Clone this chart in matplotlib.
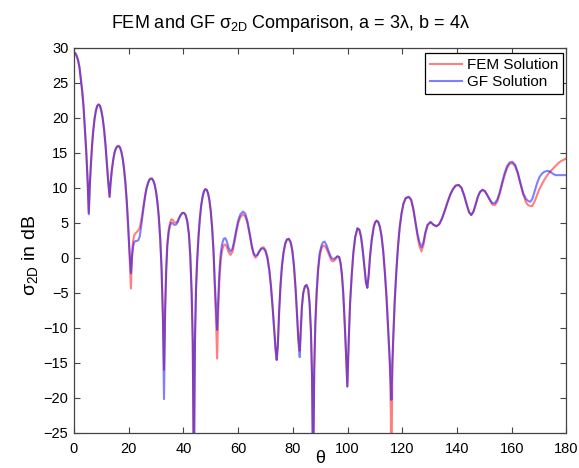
import numpy as np
import matplotlib
matplotlib.use("Agg")
import matplotlib.pyplot as plt

plt.rcParams['font.family'] = ['Liberation Sans', 'DejaVu Sans']
plt.rcParams['mathtext.fontset'] = 'custom'
plt.rcParams['mathtext.rm'] = 'Liberation Sans'
plt.rcParams['mathtext.it'] = 'Liberation Sans:italic'

# scattering angle (deg)
theta = [
    0, 0.5, 1, 1.5, 2, 2.5, 3, 3.5, 4, 4.5, 5, 5.4,
    5.8, 6.2, 6.6, 7.0, 7.5, 8.0, 8.5, 9.0, 9.5, 10.0, 10.5, 11.0, 11.5, 12.0, 12.5, 13.0,
    13.4, 13.8, 14.3, 14.8, 15.3, 15.8, 16.3, 16.8, 17.3, 17.8, 18.3, 18.8, 19.3, 19.8, 20.3, 20.8,
    21.2, 21.6, 22.0, 22.5, 23.0, 23.5, 24.0, 24.5, 25.0, 25.5, 26.0, 26.5, 27.0, 27.5, 28.0, 28.5,
    29.0, 29.5, 30.0, 30.5, 31.0, 31.5, 32.0, 32.5, 32.9,
    33.3, 33.7, 34.1, 34.6, 35.1, 35.6, 36.1, 36.6, 37.2, 37.8, 38.4, 39.0, 39.6, 40.2, 40.8, 41.4,
    42.0, 42.5, 43.0, 43.4, 43.8,
    44.2, 44.6, 45.0, 45.5, 46.0, 46.5, 47.0, 47.5, 48.0, 48.5, 49.0, 49.5, 50.0, 50.5, 51.0, 51.5,
    52.0, 52.3,
    52.7, 53.1, 53.6, 54.1, 54.7, 55.3, 55.9, 56.5, 57.2, 57.9, 58.5, 59.2, 60.0, 60.8, 61.8, 62.6,
    63.4, 64.2, 65.0, 65.7, 66.3,
    67.0, 67.7, 68.5, 69.3, 70.0, 70.7, 71.4, 72.0, 72.6, 73.2, 73.7, 74.1,
    74.5, 75.0, 75.5, 76.0, 76.6, 77.2, 77.8, 78.5, 79.2, 79.8, 80.4, 81.0, 81.5, 82.0, 82.5,
    82.9, 83.3, 83.8, 84.4, 85.0, 85.6, 86.1, 86.6, 87.0, 87.4,
    87.8, 88.2, 88.7, 89.2, 89.8, 90.5, 91.0, 91.6, 92.3, 93.0, 93.7, 94.3, 94.9, 95.6, 96.3, 96.9,
    97.4, 97.9, 98.4, 98.9, 99.4, 99.9,
    100.4, 100.9, 101.5, 102.1, 102.8, 103.6, 104.3, 104.9, 105.5, 106.1, 106.7, 107.2,
    107.7, 108.2, 108.8, 109.5, 110.0, 110.6, 111.2, 111.8, 112.4, 113.0, 113.6, 114.2, 114.8, 115.4,
    115.8, 116.0,
    116.3, 116.7, 117.2, 117.8, 118.4, 119.0, 119.7, 120.4, 121.2, 122.3, 123.2, 124.0, 124.8, 125.5,
    126.2, 127.0,
    127.7, 128.4, 129.2, 130.3, 131.4, 132.5, 133.5, 134.5, 135.5, 136.5, 137.5, 138.5, 139.5, 140.6,
    141.6, 142.6, 143.6, 144.4, 145.2,
    146.0, 146.8, 147.6, 148.4, 149.3, 150.2, 151.1, 152.0, 152.9, 153.8, 154.7, 155.6, 156.5, 157.4,
    158.3, 159.2, 160.2, 161.2, 162.2, 163.2, 164.2, 165.2, 166.0, 166.8,
    167.5, 168.3, 169.2, 170.1, 171.0, 172.0, 173.0, 174.0, 175.0, 176.0, 177.0, 178.0, 179.0, 180.0,
]

fem_db = [
    29.3, 29.2, 28.8, 28.2, 27.2, 25.5, 23.8, 21.5, 18.3, 15.0, 10.8, 6.4,
    10.5, 13.5, 16.0, 18.0, 19.8, 21.0, 21.7, 21.9, 21.7, 21.0, 19.9, 18.3, 16.2, 13.6, 10.9, 8.7,
    10.8, 12.4, 13.9, 15.0, 15.6, 15.9, 15.9, 15.7, 15.1, 14.1, 12.6, 10.6, 7.9, 4.4, 0.4, -4.4,
    0.5, 2.4, 3.2, 3.5, 3.7, 3.9, 4.3, 5.2, 6.4, 7.7, 8.9, 9.9, 10.6, 11.1, 11.3, 11.3,
    11.0, 10.4, 9.4, 7.9, 5.8, 2.8, -1.5, -8.0, -16.0,
    -7.0, -1.5, 2.0, 4.0, 5.0, 5.5, 5.4, 5.1, 5.0, 5.2, 5.7, 6.1, 6.4, 6.4, 6.1, 5.2,
    3.4, 0.3, -5.0, -12.0, -32.0,
    -12.0, -4.5, -0.5, 3.0, 5.6, 7.5, 8.7, 9.5, 9.8, 9.7, 9.2, 8.2, 6.6, 4.2, 0.8, -4.5,
    -10.0, -14.4,
    -8.0, -3.5, -0.5, 1.0, 1.8, 1.9, 1.5, 0.8, 0.4, 0.8, 1.9, 3.4, 4.9, 5.8, 6.2, 5.9,
    4.9, 3.3, 1.5, 0.4, 0.0,
    0.3, 0.9, 1.4, 1.5, 1.1, 0.1, -1.7, -4.0, -7.0, -10.5, -13.2, -14.6,
    -12.5, -7.5, -3.8, -1.2, 0.8, 2.0, 2.6, 2.7, 2.2, 1.0, -1.2, -4.5, -8.0, -11.5, -13.3,
    -10.0, -7.0, -5.0, -4.1, -3.9, -4.5, -6.5, -10.5, -17.0, -32.0,
    -16.0, -9.5, -5.0, -2.0, 0.2, 1.4, 1.7, 1.7, 1.3, 0.6, -0.1, -0.5, -0.5, -0.2, 0.2, 0.1,
    -0.7, -2.3, -5.0, -9.0, -13.5, -18.4,
    -12.0, -6.5, -2.5, 0.7, 3.0, 4.2, 4.0, 3.0, 1.2, -1.2, -3.5, -4.3,
    -2.5, 0.2, 2.5, 4.3, 5.0, 5.3, 5.1, 4.4, 3.1, 1.0, -2.0, -5.5, -10.0, -15.0,
    -22.0, -32.0,
    -18.0, -11.5, -6.5, -2.0, 1.5, 4.2, 6.3, 7.7, 8.5, 8.7, 8.3, 7.0, 5.0, 3.2,
    1.7, 0.9,
    1.8, 3.4, 4.6, 5.1, 4.7, 4.5, 4.8, 5.6, 6.7, 7.9, 9.0, 9.8, 10.3, 10.4,
    10.0, 8.9, 7.5, 6.5, 6.1,
    6.6, 7.6, 8.7, 9.4, 9.7, 9.5, 8.9, 8.2, 7.6, 7.5, 8.0, 9.1, 10.5, 11.8,
    12.8, 13.4, 13.5, 13.1, 12.0, 10.5, 9.0, 7.9, 7.5, 7.4,
    7.4, 8.0, 8.9, 9.8, 10.5, 11.2, 11.8, 12.3, 12.7, 13.1, 13.5, 13.8, 14.0, 14.2,
]

gf_db = [
    29.3, 29.2, 28.8, 28.2, 27.2, 25.5, 23.8, 21.5, 18.3, 15.0, 10.8, 6.2,
    10.5, 13.5, 16.0, 18.0, 19.8, 21.0, 21.7, 21.9, 21.7, 21.0, 19.9, 18.3, 16.2, 13.6, 10.9, 8.7,
    10.8, 12.4, 13.9, 15.0, 15.6, 15.9, 16.0, 15.8, 15.2, 14.2, 12.7, 10.7, 8.0, 4.6, 0.8, -2.2,
    0.0, 1.6, 2.2, 2.4, 2.4, 2.5, 3.0, 4.3, 5.9, 7.4, 8.8, 9.9, 10.6, 11.1, 11.3, 11.3,
    11.0, 10.4, 9.4, 7.9, 5.8, 2.8, -1.5, -9.0, -20.2,
    -8.0, -2.0, 1.6, 3.6, 4.6, 5.0, 4.9, 4.7, 4.7, 5.0, 5.6, 6.1, 6.4, 6.4, 6.1, 5.2,
    3.4, 0.3, -5.0, -12.0, -32.0,
    -12.0, -4.5, -0.5, 3.0, 5.6, 7.5, 8.7, 9.5, 9.8, 9.7, 9.2, 8.2, 6.6, 4.2, 0.9, -3.8,
    -8.0, -10.3,
    -6.0, -2.3, 0.5, 1.9, 2.7, 2.8, 2.3, 1.4, 0.9, 1.3, 2.3, 3.8, 5.3, 6.2, 6.6, 6.3,
    5.2, 3.5, 1.7, 0.6, 0.3,
    0.4, 0.9, 1.3, 1.3, 0.9, -0.1, -1.9, -4.2, -7.2, -10.5, -13.2, -14.6,
    -12.5, -7.5, -3.8, -1.2, 0.8, 2.0, 2.6, 2.7, 2.2, 1.0, -1.2, -4.5, -8.0, -11.8, -14.2,
    -10.3, -7.0, -5.0, -4.1, -3.9, -4.5, -6.5, -10.5, -17.0, -32.0,
    -16.0, -9.5, -4.8, -1.6, 0.7, 1.8, 2.2, 2.3, 1.8, 1.0, 0.3, -0.1, -0.2, 0.0, 0.2, 0.1,
    -0.7, -2.3, -5.0, -9.0, -13.5, -18.4,
    -12.0, -6.5, -2.5, 0.7, 3.0, 4.2, 4.0, 3.0, 1.2, -1.2, -3.5, -4.3,
    -2.5, 0.2, 2.5, 4.3, 5.0, 5.3, 5.1, 4.4, 3.1, 1.0, -2.0, -5.5, -10.0, -14.5,
    -18.0, -20.3,
    -15.0, -11.0, -6.3, -2.0, 1.5, 4.2, 6.3, 7.7, 8.5, 8.7, 8.3, 7.0, 5.1, 3.5,
    2.3, 1.5,
    2.2, 3.6, 4.7, 5.1, 4.7, 4.5, 4.8, 5.6, 6.7, 7.9, 9.0, 9.8, 10.3, 10.4,
    10.0, 8.9, 7.5, 6.5, 6.1,
    6.6, 7.6, 8.7, 9.4, 9.7, 9.5, 8.9, 8.3, 7.8, 7.8, 8.3, 9.4, 10.8, 12.1,
    13.1, 13.6, 13.7, 13.3, 12.2, 10.6, 9.2, 8.4, 8.1, 8.0,
    8.4, 9.4, 10.6, 11.5, 12.0, 12.3, 12.4, 12.3, 12.0, 11.8, 11.8, 11.8, 11.8, 11.8,
]

x_ticks = [0, 20, 40, 60, 80, 100, 120, 140, 160, 180]
y_ticks = [-25, -20, -15, -10, -5, 0, 5, 10, 15, 20, 25, 30]

fig = plt.figure(figsize=(5.79, 4.68), dpi=100)
ax = fig.add_axes([0.1278, 0.0754, 0.8506, 0.8226])

ax.plot(theta, fem_db, color='red', alpha=0.5, lw=1.5, label='FEM Solution')
ax.plot(theta, gf_db, color='blue', alpha=0.5, lw=1.5, label='GF Solution')

ax.set_xlim(0, 180)
ax.set_ylim(-25, 30)
ax.set_xticks(x_ticks)
ax.set_yticks(y_ticks)
ax.tick_params(direction='in', length=4, width=0.8, top=True, right=True,
               labelsize=10.5, color='#444444')
ax.tick_params(axis='x', pad=7)
ax.tick_params(axis='y', pad=4)
for s in ax.spines.values():
    s.set_color('#444444')
    s.set_linewidth(0.9)

fig.text(0.502, 0.9395, 'FEM and GF σ$_{\\rm 2D}$ Comparison, a = 3λ, b = 4λ',
         ha='center', va='baseline', fontsize=13)
ax.set_ylabel('σ$_{\\rm 2D}$ in dB', fontsize=14, va='center')
ax.yaxis.set_label_coords(-0.09, 0.46)
ax.set_xlabel('θ', fontsize=13, va='center')
ax.xaxis.set_label_coords(0.5, -0.068)

leg = ax.legend(loc='upper right', bbox_to_anchor=(0.9935, 0.9855), borderaxespad=0,
                fontsize=11, fancybox=False, framealpha=1, edgecolor='black',
                handlelength=2.1, handletextpad=0.35, labelspacing=0.2, borderpad=0.3)
leg.get_frame().set_linewidth(0.9)

fig.savefig('out.png', dpi=100)
